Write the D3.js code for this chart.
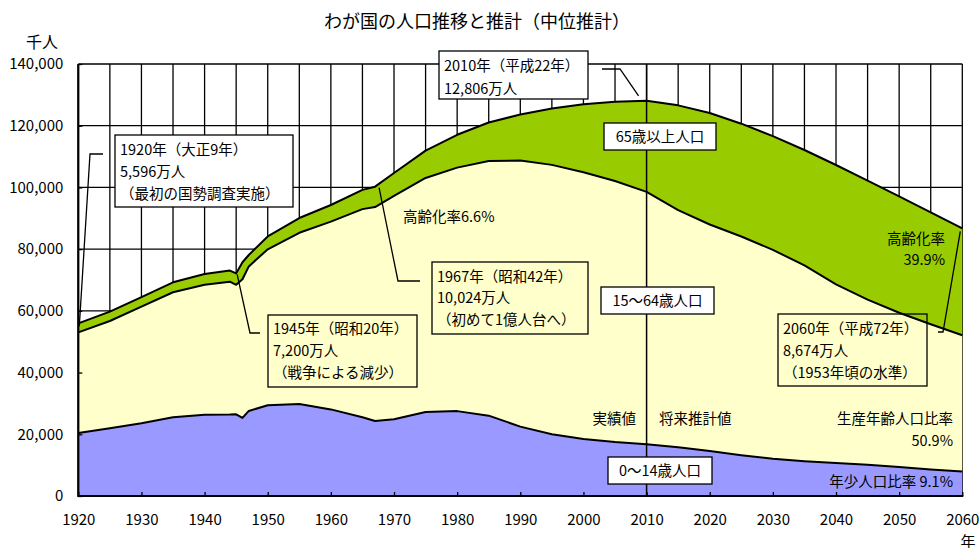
<!DOCTYPE html>
<html>
<head>
<meta charset="utf-8">
<script src="https://cdn.jsdelivr.net/npm/d3@7"></script>
<style>
  body { margin: 0; background: #fff; }
  svg text { font-family: "Noto Sans CJK JP", "Noto Sans", sans-serif; fill: #000; }
</style>
</head>
<body>
<svg id="chart" width="979" height="548"></svg>
<script>
// population in thousands
var years = [1920, 1925, 1930, 1935, 1940, 1944, 1945, 1946, 1947, 1950, 1955, 1960, 1965, 1967, 1970,
             1975, 1980, 1985, 1990, 1995, 2000, 2005, 2010, 2015, 2020, 2025, 2030, 2035, 2040,
             2045, 2050, 2055, 2060];
var pop0to14 = [20416, 21924, 23579, 25545, 26369, 26400, 26477, 25300, 27573, 29428, 29798, 28067, 25529, 24300, 24900,
                27221, 27507, 26033, 22486, 20014, 18472, 17521, 16803, 15827, 14568, 13240, 12039, 11287, 10732,
                10116, 9387, 8614, 7912];
var pop15to64 = [32606, 34792, 37807, 40484, 42110, 43064, 41970, 44950, 46828, 50532, 55493, 60837, 67444, 69343, 72372,
                 75854, 78906, 82548, 86230, 87295, 86449, 84575, 81770, 76818, 73408, 70846, 67730, 63430, 57866,
                 53530, 50013, 47062, 44183];
var pop65plus = [2941, 3021, 3064, 3225, 3454, 3600, 3700, 5500, 3700, 4155, 4786, 5398, 6236, 6600, 7393,
                 8865, 10647, 12468, 14895, 18261, 22005, 25672, 29484, 33952, 36124, 36573, 36849, 37407, 38678,
                 38564, 37676, 36257, 34642];
var xTicks = [1920, 1930, 1940, 1950, 1960, 1970, 1980, 1990, 2000, 2010, 2020, 2030, 2040, 2050, 2060];
var yTicks = [0, 20000, 40000, 60000, 80000, 100000, 120000, 140000];

var svg = d3.select("#chart");
var plotLeft = 78.3, plotRight = 962.3, plotTop = 64, plotBottom = 496;

var x = d3.scaleLinear().domain([1920, 2060]).range([plotLeft, plotRight]);
var y = d3.scaleLinear().domain([0, 140000]).range([plotBottom, plotTop]);

var rows = years.map(function(yr, i) {
  return {year: yr, young: pop0to14[i], working: pop15to64[i], old: pop65plus[i]};
});
var series = d3.stack().keys(["young", "working", "old"])(rows);
var fills = {young: "#9999FF", working: "#FFFFCC", old: "#99CC00"};

// grid
var grid = svg.append("g");
grid.selectAll("line.v")
    .data(d3.range(1920, 2061, 5))
    .enter().append("line")
    .attr("x1", function(d) { return x(d); }).attr("x2", function(d) { return x(d); })
    .attr("y1", plotTop).attr("y2", plotBottom)
    .attr("stroke", "#000").attr("stroke-width", 1.3);
grid.selectAll("line.h")
    .data(yTicks)
    .enter().append("line")
    .attr("x1", plotLeft).attr("x2", plotRight)
    .attr("y1", function(d) { return y(d); }).attr("y2", function(d) { return y(d); })
    .attr("stroke", "#000").attr("stroke-width", 1.3);

// stacked areas
var area = d3.area()
             .x(function(d) { return x(d.data.year); })
             .y0(function(d) { return y(d[0]); })
             .y1(function(d) { return y(d[1]); });
svg.append("g").selectAll("path")
   .data(series)
   .enter().append("path")
   .attr("d", area)
   .attr("fill", function(s) { return fills[s.key]; });

var edge = d3.line()
             .x(function(d) { return x(d.data.year); })
             .y(function(d) { return y(d[1]); });
svg.append("g").selectAll("path")
   .data(series)
   .enter().append("path")
   .attr("d", edge)
   .attr("fill", "none")
   .attr("stroke", "#000")
   .attr("stroke-width", 2)
   .attr("stroke-linejoin", "round");

// actual / projection divider
svg.append("line")
   .attr("x1", x(2010)).attr("x2", x(2010)).attr("y1", plotTop).attr("y2", plotBottom)
   .attr("stroke", "#000").attr("stroke-width", 1.5);

// axes
var yAxis = d3.axisLeft(y).tickValues(yTicks).tickFormat(d3.format(","))
              .tickSizeInner(-4).tickSizeOuter(0).tickPadding(15);
var gy = svg.append("g").attr("transform", "translate(" + plotLeft + ",0)").call(yAxis);
gy.select(".domain").remove();
gy.selectAll("line").attr("stroke", "#000").attr("stroke-width", 1.3);
gy.selectAll("text").attr("font-size", 15).attr("font-family", "\"Noto Sans CJK JP\", sans-serif");

var xAxis = d3.axisBottom(x).tickValues(xTicks).tickFormat(d3.format("d"))
              .tickSizeInner(-4).tickSizeOuter(0).tickPadding(18);
var gx = svg.append("g").attr("transform", "translate(0," + plotBottom + ")").call(xAxis);
gx.select(".domain").remove();
gx.selectAll("line").attr("stroke", "#000").attr("stroke-width", 1.3);
gx.selectAll("text").attr("font-size", 15).attr("font-family", "\"Noto Sans CJK JP\", sans-serif");

svg.append("line").attr("x1", plotLeft).attr("x2", plotLeft).attr("y1", plotTop).attr("y2", plotBottom + 1)
   .attr("stroke", "#000").attr("stroke-width", 2.2);
svg.append("line").attr("x1", plotLeft).attr("x2", plotRight + 1).attr("y1", plotBottom).attr("y2", plotBottom)
   .attr("stroke", "#000").attr("stroke-width", 2.2);

// titles
svg.append("text").attr("x", 477).attr("y", 28).attr("text-anchor", "middle")
   .attr("font-size", 18).text("わが国の人口推移と推計（中位推計）");
svg.append("text").attr("x", 42).attr("y", 48).attr("text-anchor", "middle")
   .attr("font-size", 16).text("千人");
svg.append("text").attr("x", 968).attr("y", 547).attr("text-anchor", "middle")
   .attr("font-size", 15).text("年");

// annotations
function leader(points) {
  svg.append("path")
     .attr("d", d3.line()(points))
     .attr("fill", "none").attr("stroke", "#000").attr("stroke-width", 1.3);
}
function box(bx, by, bw, bh, fill) {
  svg.append("rect").attr("x", bx).attr("y", by).attr("width", bw).attr("height", bh)
     .attr("fill", fill).attr("stroke", "#000").attr("stroke-width", 1.3);
}
function label(tx, ty, str, anchor) {
  svg.append("text").attr("x", tx).attr("y", ty).attr("font-size", 14.5)
     .attr("text-anchor", anchor || "start").text(str);
}

leader([[103, 154], [90, 154], [x(1920) + 1, y(55963) + 3]]);
box(115, 135, 178, 72, "#fff");
label(120, 154.5, "1920年（大正9年）");
label(120, 177, "5,596万人");
label(120, 198.5, "（最初の国勢調査実施）");

leader([[602, 69], [620, 69], [x(2010) - 8, y(128057) - 5]]);
box(439, 51, 149, 48, "#fff");
label(444, 70.5, "2010年（平成22年）");
label(444, 93.5, "12,806万人");

box(604, 123, 112, 27, "#fff");
label(660, 141.5, "65歳以上人口", "middle");

label(403, 222, "高齢化率6.6%");

leader([[420, 281], [398, 281], [x(1967) + 4, y(100243) + 1]]);
box(432, 262, 156, 72, "#FFFFCC");
label(437, 281.5, "1967年（昭和42年）");
label(437, 303, "10,024万人");
label(437, 324.5, "（初めて1億人台へ）");

box(601, 287, 113, 27, "#fff");
label(657.5, 305.5, "15～64歳人口", "middle");

leader([[260, 333], [250, 333], [x(1945) + 1, y(72147) + 1]]);
box(268, 315, 149, 72, "#FFFFCC");
label(273, 333.5, "1945年（昭和20年）");
label(273, 356, "7,200万人");
label(273, 377.5, "（戦争による減少）");

leader([[938, 332], [943, 332], [x(2060) - 2, y(86737) + 3]]);
box(778, 314, 149, 72, "none");
label(783, 333.5, "2060年（平成72年）");
label(783, 356, "8,674万人");
label(783, 378, "（1953年頃の水準）");

label(945, 243.5, "高齢化率", "end");
label(945, 264.5, "39.9%", "end");

label(636, 423.5, "実績値", "end");
label(659, 423.5, "将来推計値");
label(953, 423.5, "生産年齢人口比率", "end");
label(953, 446, "50.9%", "end");
label(953, 487, "年少人口比率 9.1%", "end");

box(608, 457, 104, 27, "#fff");
label(660, 475.5, "0～14歳人口", "middle");
</script>
</body>
</html>
